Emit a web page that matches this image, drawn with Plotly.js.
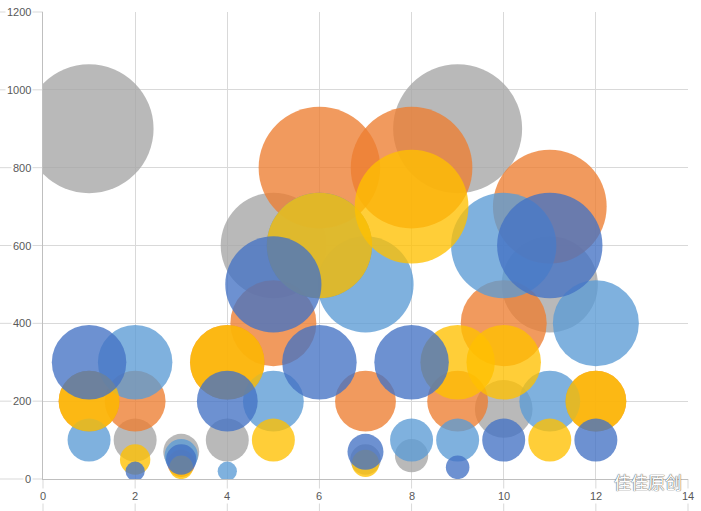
<!DOCTYPE html>
<html>
<head>
<meta charset="utf-8">
<script src="https://cdn.plot.ly/plotly-3.0.1.min.js"></script>
<style>html,body{margin:0;padding:0;background:#fff;}#chart{width:701px;height:511px;}</style>
</head>
<body>
<div id="chart"></div>
<script>
// ---- data ----
const grayX   = [1, 2, 3, 4, 5, 6, 7, 8, 9, 10, 11];
const grayY   = [900, 100, 70, 100, 600, 600, 50, 60, 900, 180, 500];
const graySize = [900, 100, 70, 100, 600, 600, 50, 60, 900, 180, 500];

const orangeX = [1, 2, 3, 4, 5, 6, 7, 8, 9, 10, 11, 12];
const orangeY = [200, 200, 40, 300, 400, 800, 200, 800, 200, 400, 700, 200];
const orangeSize = [200, 200, 40, 300, 400, 800, 200, 800, 200, 400, 700, 200];

const lightBlueX = [1, 2, 3, 4, 5, 6, 7, 8, 9, 10, 11, 12];
const lightBlueY = [100, 300, 60, 20, 200, 600, 500, 100, 100, 600, 200, 400];
const lightBlueSize = [100, 300, 60, 20, 200, 600, 500, 100, 100, 600, 200, 400];

const yellowX = [1, 2, 3, 4, 5, 6, 7, 8, 9, 10, 11, 12];
const yellowY = [200, 50, 30, 300, 100, 600, 40, 700, 300, 300, 100, 200];
const yellowSize = [200, 50, 30, 300, 100, 600, 40, 700, 300, 300, 100, 200];

const darkBlueX = [1, 2, 3, 4, 5, 6, 7, 8, 9, 10, 11, 12];
const darkBlueY = [300, 20, 50, 200, 500, 300, 70, 300, 30, 100, 600, 100];
const darkBlueSize = [300, 20, 50, 200, 500, 300, 70, 300, 30, 100, 600, 100];

const xTicks = [0, 2, 4, 6, 8, 10, 12, 14];
const yTicks = [0, 200, 400, 600, 800, 1000, 1200];
const watermark = '佳佳原创';

// ---- styling ----
const X_MAX = 14, Y_MAX = 1200;
const M = {l: 43, r: 13, t: 12, b: 32};
const PW = 701 - M.l - M.r, PH = 511 - M.t - M.b;
const SIZEREF = 2 / (4.3 * 4.3);
const OPAC = 0.78;
const labelFont = {family: 'Liberation Sans, Arial, sans-serif', size: 11, color: '#595959'};
const gridColor = '#D9D9D9';

function bubble(x, y, s, color) {
  return {
    type: 'scatter', mode: 'markers', x: x, y: y, hoverinfo: 'skip',
    marker: {size: s, sizemode: 'area', sizeref: SIZEREF, color: color,
             opacity: OPAC, line: {width: 0}}
  };
}

const data = [
  bubble(grayX, grayY, graySize, '#A5A5A5'),
  bubble(orangeX, orangeY, orangeSize, '#ED7D31'),
  bubble(lightBlueX, lightBlueY, lightBlueSize, '#5B9BD5'),
  bubble(yellowX, yellowY, yellowSize, '#FFC000'),
  bubble(darkBlueX, darkBlueY, darkBlueSize, '#4472C4')
];

const shapes = [];
xTicks.forEach(t => shapes.push({type: 'line', layer: 'below', xref: 'paper', yref: 'paper',
  x0: t / X_MAX, x1: t / X_MAX, y0: 0, y1: -M.b / PH, line: {color: gridColor, width: 1}}));
yTicks.forEach(t => shapes.push({type: 'line', layer: 'below', xref: 'paper', yref: 'paper',
  x0: -M.l / PW, x1: 0, y0: t / Y_MAX, y1: t / Y_MAX, line: {color: gridColor, width: 1}}));

const annotations = [];
xTicks.forEach(t => annotations.push({xref: 'x', yref: 'paper', x: t, y: -16.5 / PH,
  text: String(t), showarrow: false, xanchor: 'center', yanchor: 'middle',
  bgcolor: '#ffffff', borderpad: 1, font: labelFont}));
yTicks.forEach(t => annotations.push({xref: 'paper', yref: 'y', x: -10 / PW, y: t,
  text: String(t), showarrow: false, xanchor: 'right', yanchor: 'middle',
  bgcolor: '#ffffff', borderpad: 1, font: labelFont}));
annotations.push({xref: 'paper', yref: 'paper', x: (648 - M.l) / PW, y: -2 / PH,
  text: watermark, showarrow: false, xanchor: 'center', yanchor: 'middle',
  font: {family: 'Noto Sans CJK SC, sans-serif', size: 17, color: '#ffffff',
         shadow: '0px 0px 1px #555, 0px 0px 1px #555'}});

const layout = {
  width: 701, height: 511,
  margin: M,
  paper_bgcolor: '#ffffff', plot_bgcolor: '#ffffff',
  showlegend: false,
  xaxis: {range: [0, X_MAX], tickvals: xTicks, showticklabels: false, showgrid: true,
          gridcolor: gridColor, gridwidth: 1, zeroline: false, showline: true,
          linecolor: '#BFBFBF', linewidth: 1, mirror: false, ticks: '', fixedrange: true},
  yaxis: {range: [0, Y_MAX], tickvals: yTicks, showticklabels: false, showgrid: true,
          gridcolor: gridColor, gridwidth: 1, zeroline: false, showline: true,
          linecolor: '#BFBFBF', linewidth: 1, ticks: '', fixedrange: true},
  shapes: shapes,
  annotations: annotations
};

Plotly.newPlot('chart', data, layout, {displayModeBar: false, staticPlot: true});
</script>
</body>
</html>
